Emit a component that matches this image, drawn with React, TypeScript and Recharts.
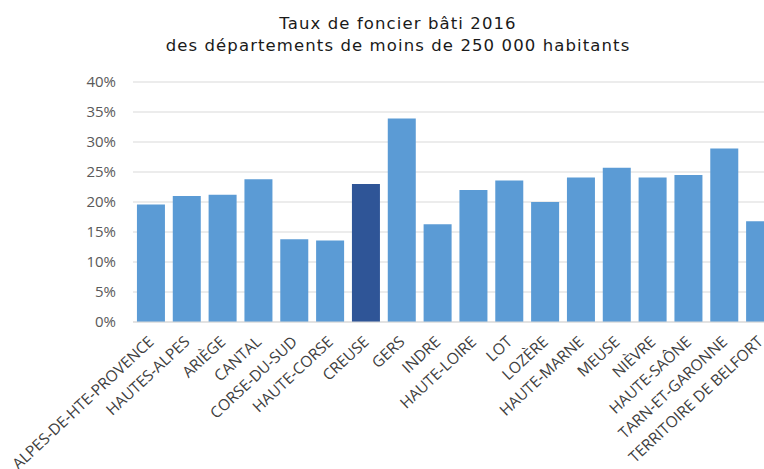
import React from 'react';
import { BarChart, Bar, XAxis, YAxis, CartesianGrid, Cell } from 'recharts';

const departements = [
  'ALPES-DE-HTE-PROVENCE', 'HAUTES-ALPES', 'ARIÈGE', 'CANTAL', 'CORSE-DU-SUD',
  'HAUTE-CORSE', 'CREUSE', 'GERS', 'INDRE', 'HAUTE-LOIRE', 'LOT', 'LOZÈRE',
  'HAUTE-MARNE', 'MEUSE', 'NIÈVRE', 'HAUTE-SAÔNE', 'TARN-ET-GARONNE',
  'TERRITOIRE DE BELFORT'
];
const taux = [
  19.6, 21.0, 21.2, 23.8, 13.8, 13.6, 23.0, 33.9, 16.3, 22.0, 23.6, 20.0,
  24.1, 25.7, 24.1, 24.5, 28.9, 16.8
];
const highlighted = 'CREUSE';
const yTicks = [0, 5, 10, 15, 20, 25, 30, 35, 40];

const data = departements.map((name, i) => ({ name, value: taux[i] }));

const XTick = (props: any) => {
  const { x, y, payload } = props;
  return (
    <g transform={`translate(${x + 4},${y + 13})`}>
      <text
        textAnchor="end"
        transform="rotate(-43)"
        fontFamily="'Open Sans', sans-serif"
        fontSize={15.5}
        fill="#404040"
      >
        {payload.value}
      </text>
    </g>
  );
};

const titleStyle = { fontFamily: "'DejaVu Sans', Verdana, sans-serif", fontSize: 16.5, letterSpacing: 1.1 };

export default function App() {
  return (
    <div style={{ position: 'fixed', left: 0, top: 0, width: 764, height: 469, overflow: 'hidden', background: '#fff' }}>
      <svg width={764} height={60} style={{ position: 'absolute', left: 0, top: 0 }}>
        <text x={398} y={29} textAnchor="middle" fill="#1a1a1a" style={titleStyle}>
          Taux de foncier bâti 2016
        </text>
        <text x={398} y={51} textAnchor="middle" fill="#1a1a1a" style={titleStyle}>
          des départements de moins de 250 000 habitants
        </text>
      </svg>
      <BarChart
        width={790}
        height={469}
        data={data}
        margin={{ top: 82, right: 12, bottom: 0, left: 0 }}
        barCategoryGap="11%"
      >
        <CartesianGrid vertical={false} stroke="#d9d9d9" />
        <XAxis
          dataKey="name"
          interval={0}
          height={147}
          tick={<XTick />}
          tickLine={false}
          axisLine={{ stroke: '#d9d9d9' }}
        />
        <YAxis
          width={133}
          domain={[0, 40]}
          ticks={yTicks}
          tickFormatter={(v: number) => `${v}%`}
          tick={{ fill: '#595959', fontSize: 15, fontFamily: "'Open Sans', sans-serif" }}
          tickLine={false}
          tickMargin={11}
          axisLine={false}
        />
        <Bar dataKey="value" isAnimationActive={false}>
          {data.map((d) => (
            <Cell key={d.name} fill={d.name === highlighted ? '#2F5597' : '#5B9BD5'} />
          ))}
        </Bar>
      </BarChart>
    </div>
  );
}
